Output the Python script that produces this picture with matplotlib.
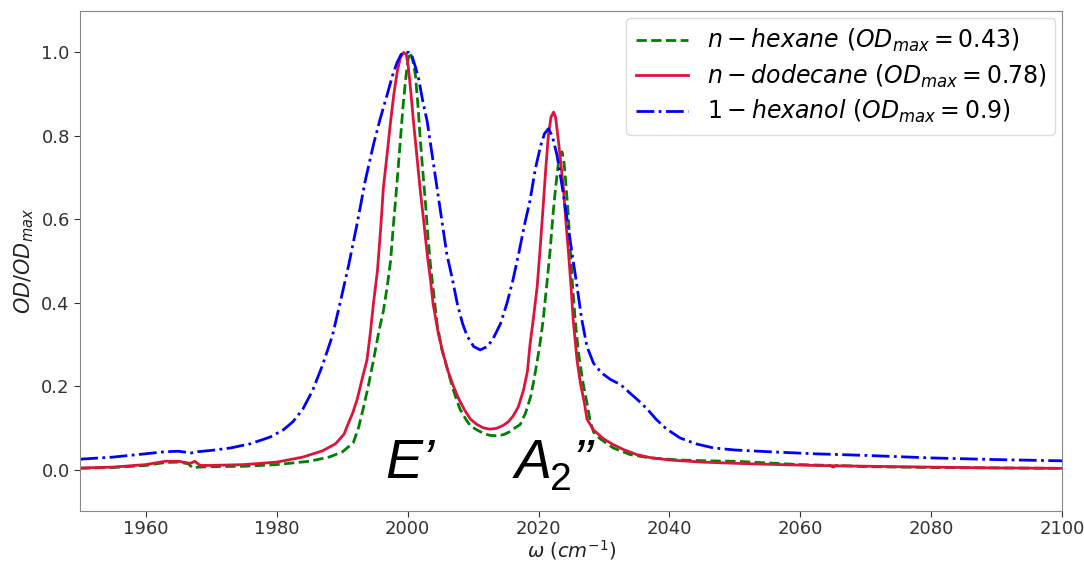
import matplotlib
matplotlib.use("Agg")
import matplotlib.pyplot as plt

# ---- data ----
hex_w = [1950, 1955, 1960, 1963, 1965, 1966.5, 1967.2, 1968, 1970, 1975, 1980, 1985, 1988, 1990,
         1991.7, 1992.5, 1993.2, 1994.0, 1994.8, 1995.6, 1996.3, 1996.9, 1997.4, 1997.8, 1998.1,
         1998.5, 1998.9, 1999.3, 1999.7, 2000.1, 2000.4, 2000.8, 2001.2, 2001.6, 2001.9, 2002.3,
         2002.7, 2003.1, 2003.5, 2004.0, 2004.5, 2005.2, 2006.0, 2007.0, 2008.0, 2009.0, 2009.6,
         2010.6, 2011.6, 2012.6, 2013.7, 2014.7, 2015.5, 2016.2, 2017.2, 2018.0, 2018.8, 2019.2,
         2019.8, 2020.3, 2020.7, 2021.3, 2021.8, 2022.2, 2022.6, 2023.0, 2023.3, 2023.6, 2023.9,
         2024.1, 2024.5, 2024.8, 2025.2, 2025.6, 2026.1, 2026.8, 2027.4, 2027.9, 2028.4, 2029.4,
         2031.4, 2034, 2037, 2041.6, 2046, 2050, 2055, 2060, 2064.5, 2065, 2065.5, 2070, 2080,
         2090, 2100]
hex_y = [0.003, 0.005, 0.010, 0.017, 0.018, 0.014, 0.004, 0.006, 0.007, 0.008, 0.012, 0.020, 0.030, 0.042,
         0.064, 0.100, 0.145, 0.200, 0.263, 0.330, 0.380, 0.440, 0.500, 0.580, 0.634,
         0.710, 0.790, 0.870, 0.936, 0.985, 1.000, 0.980, 0.945, 0.870, 0.800, 0.720,
         0.645, 0.560, 0.490, 0.420, 0.350, 0.290, 0.245, 0.190, 0.145, 0.118, 0.105,
         0.095, 0.087, 0.082, 0.081, 0.084, 0.090, 0.098, 0.108, 0.135, 0.175, 0.207,
         0.260, 0.310, 0.358, 0.450, 0.530, 0.610, 0.675, 0.730, 0.755, 0.762, 0.735,
         0.700, 0.620, 0.540, 0.440, 0.358, 0.280, 0.207, 0.160, 0.115, 0.090, 0.074,
         0.052, 0.036, 0.028, 0.023, 0.021, 0.020, 0.016, 0.012, 0.010, 0.006, 0.010, 0.007, 0.005,
         0.004, 0.003]

dod_w = [1950, 1955, 1960, 1963, 1965, 1966.8, 1967.5, 1968.3, 1970, 1975, 1980, 1984, 1987, 1989,
         1990.3, 1990.8, 1991.6, 1992.3, 1993.1, 1993.8, 1994.3, 1994.8, 1995.4, 1995.9, 1996.3,
         1996.9, 1997.4, 1997.9, 1998.4, 1998.9, 1999.4, 1999.8, 2000.1, 2000.5, 2000.9, 2001.4,
         2001.9, 2002.5, 2003.0, 2003.5, 2003.9, 2004.7, 2005.4, 2006.2, 2007.0, 2007.8, 2008.7,
         2009.6, 2010.6, 2011.6, 2012.6, 2013.6, 2014.6, 2015.4, 2016.1, 2016.9, 2017.7, 2018.3,
         2018.7, 2019.2, 2019.8, 2020.2, 2020.7, 2021.1, 2021.5, 2021.9, 2022.3, 2022.6, 2023.0,
         2023.4, 2023.8, 2024.2, 2024.6, 2025.0, 2025.3, 2025.9, 2026.4, 2027.0, 2027.4, 2028.4,
         2029.9, 2031.4, 2033, 2035, 2037, 2040, 2045, 2052, 2062, 2075, 2090, 2100]
dod_y = [0.004, 0.006, 0.012, 0.020, 0.020, 0.015, 0.020, 0.010, 0.010, 0.012, 0.018, 0.030, 0.045, 0.062,
         0.085, 0.105, 0.135, 0.168, 0.220, 0.263, 0.326, 0.400, 0.477, 0.580, 0.675,
         0.760, 0.834, 0.900, 0.952, 0.988, 1.000, 0.995, 0.967, 0.905, 0.834, 0.755,
         0.675, 0.590, 0.516, 0.455, 0.397, 0.326, 0.280, 0.235, 0.200, 0.170, 0.143,
         0.121, 0.108, 0.100, 0.097, 0.099, 0.106, 0.115, 0.128, 0.150, 0.190, 0.235,
         0.300, 0.360, 0.440, 0.520, 0.630, 0.720, 0.800, 0.845, 0.857, 0.845, 0.793,
         0.735, 0.675, 0.590, 0.516, 0.430, 0.358, 0.260, 0.207, 0.160, 0.121, 0.095,
         0.074, 0.060, 0.048, 0.036, 0.029, 0.023, 0.018, 0.014, 0.010, 0.007, 0.004, 0.003]

hxl_w = [1950, 1955, 1960, 1963, 1965, 1967, 1968, 1970, 1973, 1976, 1979, 1981, 1982.5, 1984,
         1985.5, 1987, 1988.5, 1989.7, 1991, 1992.3, 1993.5, 1994.8, 1995.8, 1996.9, 1997.7,
         1998.4, 1999.0, 1999.5, 2000.2, 2000.7, 2001.2, 2001.7, 2002.3, 2003.0, 2003.7, 2004.5,
         2005.3, 2006.0, 2006.8, 2007.6, 2008.4, 2009.1, 2010.1, 2011.1, 2012.2, 2013.1, 2014.2,
         2015.2, 2016.1, 2017.0, 2017.9, 2018.7, 2019.5, 2020.3, 2020.9, 2021.5, 2022.1, 2022.8,
         2023.6, 2024.4, 2025.2, 2025.9, 2026.6, 2027.4, 2028.4, 2029.6, 2031.0, 2032.5, 2034,
         2035.3, 2036.6, 2038, 2039.5, 2041.6, 2044, 2046.7, 2050, 2055, 2062, 2070, 2080, 2090,
         2100]
hxl_y = [0.025, 0.030, 0.038, 0.043, 0.044, 0.040, 0.043, 0.046, 0.052, 0.062, 0.078, 0.095, 0.115, 0.145,
         0.190, 0.250, 0.320, 0.400, 0.490, 0.590, 0.690, 0.780, 0.840, 0.900, 0.945,
         0.976, 0.995, 1.000, 1.000, 0.990, 0.965, 0.936, 0.885, 0.834, 0.760, 0.675,
         0.590, 0.516, 0.460, 0.397, 0.350, 0.320, 0.295, 0.287, 0.295, 0.315, 0.350,
         0.400, 0.455, 0.520, 0.590, 0.645, 0.720, 0.775, 0.805, 0.817, 0.800, 0.755,
         0.680, 0.596, 0.510, 0.437, 0.360, 0.295, 0.255, 0.232, 0.216, 0.204, 0.183,
         0.165, 0.145, 0.120, 0.098, 0.076, 0.062, 0.052, 0.047, 0.043, 0.038, 0.034, 0.028, 0.024,
         0.021]

labels = [r'$n-hexane\ (OD_{max}=0.43)$',
          r'$n-dodecane\ (OD_{max}=0.78)$',
          r'$1-hexanol\ (OD_{max}=0.9)$']
xticks = [1960, 1980, 2000, 2020, 2040, 2060, 2080, 2100]
yticks = [0.0, 0.2, 0.4, 0.6, 0.8, 1.0]

fig = plt.figure(figsize=(10.84, 5.65), dpi=100)
ax = fig.add_axes([0.074, 0.095, 0.906, 0.886])

ax.plot(hex_w, hex_y, color='green', ls='--', lw=2, label=labels[0])
ax.plot(dod_w, dod_y, color='crimson', ls='-', lw=2, label=labels[1])
ax.plot(hxl_w, hxl_y, color='blue', ls='-.', lw=2, label=labels[2])

ax.set_xlim(1950, 2100)
ax.set_ylim(-0.1, 1.1)
ax.set_xticks(xticks)
ax.set_yticks(yticks)
ax.tick_params(labelsize=13, colors='#333333', length=4)
ax.tick_params(axis='x', pad=2)
for s in ax.spines.values():
    s.set_color('#888888')

ax.set_xlabel(r'$\omega\ (cm^{-1})$', fontsize=14, color='#222222', labelpad=0)
ax.set_ylabel(r'$OD/OD_{max}$', fontsize=15, color='#222222')

leg = ax.legend(loc='upper right', fontsize=17, handlelength=2.2, framealpha=1,
                edgecolor='#dddddd', borderaxespad=0.3, labelspacing=0.35)

font = dict(family='Liberation Sans', style='italic', fontsize=40, color='black')
ax.annotate('E\u2019', xy=(1996.6, -0.02), xycoords='data', **font)
ax.annotate('A', xy=(2016.4, -0.02), xycoords='data', **font)
ax.annotate('2', xy=(2016.4, -0.02), xycoords='data', xytext=(25, -9),
            textcoords='offset points', family='Liberation Sans', fontsize=28, color='black')
ax.annotate('\u2019\u2019', xy=(2016.4, -0.02), xycoords='data', xytext=(41, 0),
            textcoords='offset points', **font)

fig.savefig('out.png', dpi=100)
